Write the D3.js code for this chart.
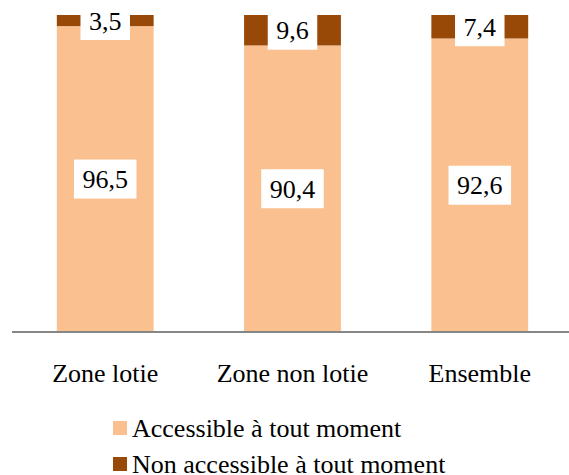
<!DOCTYPE html>
<html>
<head>
<meta charset="utf-8">
<script src="https://cdn.jsdelivr.net/npm/d3@7"></script>
<style>
  body { margin: 0; background: #fff; }
</style>
</head>
<body>
<div class="canvas"></div>
<script>
const zones = ["Zone lotie", "Zone non lotie", "Ensemble"];
const accessible = [96.5, 90.4, 92.6];
const nonAccessible = [3.5, 9.6, 7.4];
const seriesNames = ["Accessible à tout moment", "Non accessible à tout moment"];
const colors = ["#FAC090", "#984807"];

const fontFam = "'Liberation Serif', 'Times New Roman', Tinos, 'DejaVu Serif', serif";

const svg = d3.select(".canvas").append("svg")
  .attr("width", 569).attr("height", 475)
  .style("font-family", fontFam);

const plotTop = 15, plotBottom = 332;

const x = d3.scaleBand().domain(zones).range([10, 575]).paddingInner(0.483).paddingOuter(0.25);
const y = d3.scaleLinear().domain([0, 100]).range([plotBottom, plotTop]);

// stacked data
const rows = zones.map((z, i) => ({ zone: z, acc: accessible[i], non: nonAccessible[i] }));
const stack = d3.stack().keys(["acc", "non"])(rows);

const fmt = (v) => String(v).replace(".", ",");

stack.forEach((layer, k) => {
  svg.append("g").selectAll("rect")
    .data(layer)
    .enter()
    .append("rect")
    .attr("x", (d) => x(d.data.zone))
    .attr("width", x.bandwidth())
    .attr("y", (d) => y(d[1]))
    .attr("height", (d) => y(d[0]) - y(d[1]))
    .attr("fill", colors[k]);
});

// value labels with white boxes
stack.forEach((layer) => {
  layer.forEach((d) => {
    const v = d[1] - d[0];
    const cx = x(d.data.zone) + x.bandwidth() / 2;
    const cy = (y(d[0]) + y(d[1])) / 2;
    const g = svg.append("g");
    const t = g.append("text")
      .attr("x", cx)
      .attr("y", cy + 9)
      .attr("text-anchor", "middle")
      .attr("font-family", fontFam)
      .attr("font-size", 26)
      .attr("fill", "#000")
      .text(fmt(Math.round(v * 10) / 10));
    const w = t.node().getComputedTextLength() + 17;
    g.insert("rect", "text")
      .attr("x", cx - w / 2)
      .attr("y", cy - 19.5)
      .attr("width", w)
      .attr("height", 39)
      .attr("fill", "#fff");
  });
});

// baseline
svg.append("line")
  .attr("x1", 12).attr("x2", 569)
  .attr("y1", plotBottom).attr("y2", plotBottom)
  .attr("stroke", "#868686")
  .attr("stroke-width", 2);

// category labels
svg.append("g").selectAll("text")
  .data(zones)
  .enter()
  .append("text")
  .attr("x", (d) => x(d) + x.bandwidth() / 2)
  .attr("y", 382)
  .attr("text-anchor", "middle")
  .attr("font-family", fontFam)
  .attr("font-size", 26)
  .text((d) => d);

// legend
const legend = svg.append("g").selectAll("g")
  .data(seriesNames)
  .enter()
  .append("g")
  .attr("transform", (d, i) => "translate(113," + (421 + i * 36) + ")");
legend.append("rect")
  .attr("width", 14).attr("height", 14)
  .attr("fill", (d, i) => colors[i]);
legend.append("text")
  .attr("x", 19).attr("y", 16)
  .attr("font-family", fontFam)
  .attr("font-size", 26)
  .text((d) => d);
</script>
</body>
</html>
